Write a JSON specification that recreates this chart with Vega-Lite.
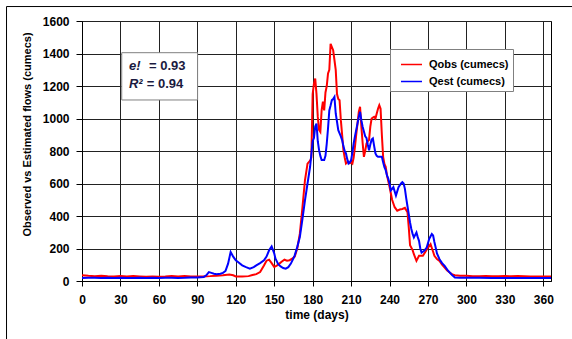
{
  "$schema": "https://vega.github.io/schema/vega-lite/v6.json",
  "width": 469,
  "height": 260,
  "autosize": {"type": "none"},
  "padding": {"left": 82, "top": 21, "right": 21, "bottom": 58},
  "background": "white",
  "config": {
    "font": "Liberation Sans",
    "view": {"stroke": "black", "strokeWidth": 1},
    "axis": {
      "labelFont": "Liberation Sans", "labelFontWeight": "bold", "labelFontSize": 12, "labelColor": "black",
      "titleFont": "Liberation Sans", "titleFontWeight": "bold", "titleColor": "black",
      "tickColor": "black", "tickSize": 5, "domainColor": "black",
      "gridColor": "#222222", "gridWidth": 1, "gridOpacity": 1,
      "labelFlush": false, "labelOverlap": false
    }
  },
  "datasets": {
    "obs": [
      {"t":0,"q":35},{"t":5,"q":32},{"t":10,"q":30},{"t":15,"q":33},{"t":20,"q":30},{"t":25,"q":28},{"t":30,"q":30},{"t":35,"q":27},{"t":40,"q":30},{"t":45,"q":28},{"t":50,"q":26},{"t":55,"q":27},{"t":60,"q":26},{"t":65,"q":27},{"t":70,"q":30},{"t":75,"q":28},{"t":80,"q":30},{"t":85,"q":28},{"t":90,"q":27},{"t":95,"q":28},{"t":100,"q":30},{"t":105,"q":33},{"t":110,"q":35},{"t":115,"q":40},{"t":118,"q":35},{"t":120,"q":28},{"t":125,"q":28},{"t":130,"q":30},{"t":133,"q":37},{"t":136,"q":42},{"t":139,"q":55},{"t":142,"q":96},{"t":144,"q":125},{"t":146,"q":131},{"t":148,"q":110},{"t":150,"q":86},{"t":152,"q":95},{"t":154,"q":107},{"t":156,"q":120},{"t":158,"q":131},{"t":160,"q":125},{"t":162,"q":128},{"t":164,"q":137},{"t":166,"q":150},{"t":168,"q":200},{"t":170,"q":291},{"t":172,"q":450},{"t":174,"q":620},{"t":176,"q":722},{"t":178,"q":740},{"t":179,"q":760},{"t":180,"q":1150},{"t":181,"q":1215},{"t":182,"q":1246},{"t":183,"q":1150},{"t":184,"q":1010},{"t":185,"q":930},{"t":186,"q":918},{"t":187,"q":1050},{"t":188,"q":1103},{"t":189,"q":1050},{"t":190,"q":1160},{"t":191,"q":1200},{"t":192,"q":1277},{"t":193,"q":1300},{"t":194,"q":1460},{"t":195,"q":1440},{"t":196,"q":1420},{"t":197,"q":1360},{"t":198,"q":1300},{"t":199,"q":1150},{"t":200,"q":1120},{"t":201,"q":1113},{"t":202,"q":990},{"t":203,"q":900},{"t":204,"q":805},{"t":205,"q":760},{"t":206,"q":723},{"t":207,"q":730},{"t":208,"q":734},{"t":209,"q":725},{"t":210,"q":730},{"t":211,"q":723},{"t":212,"q":760},{"t":213,"q":826},{"t":214,"q":900},{"t":215,"q":969},{"t":216,"q":1040},{"t":217,"q":1072},{"t":218,"q":950},{"t":219,"q":850},{"t":220,"q":764},{"t":221,"q":800},{"t":222,"q":846},{"t":223,"q":860},{"t":224,"q":867},{"t":225,"q":950},{"t":226,"q":1000},{"t":227,"q":1005},{"t":228,"q":1010},{"t":229,"q":1000},{"t":230,"q":1031},{"t":231,"q":1060},{"t":232,"q":1082},{"t":233,"q":1060},{"t":234,"q":900},{"t":235,"q":764},{"t":236,"q":720},{"t":237,"q":703},{"t":238,"q":650},{"t":240,"q":580},{"t":242,"q":500},{"t":244,"q":454},{"t":246,"q":433},{"t":248,"q":440},{"t":250,"q":443},{"t":252,"q":450},{"t":254,"q":423},{"t":255,"q":330},{"t":256,"q":220},{"t":258,"q":190},{"t":259,"q":165},{"t":261,"q":124},{"t":263,"q":155},{"t":266,"q":155},{"t":268,"q":180},{"t":270,"q":206},{"t":272,"q":227},{"t":274,"q":180},{"t":275,"q":155},{"t":277,"q":135},{"t":279,"q":124},{"t":281,"q":100},{"t":283,"q":82},{"t":285,"q":65},{"t":287,"q":52},{"t":289,"q":40},{"t":291,"q":35},{"t":295,"q":32},{"t":300,"q":32},{"t":305,"q":30},{"t":310,"q":30},{"t":315,"q":31},{"t":320,"q":30},{"t":325,"q":29},{"t":330,"q":30},{"t":335,"q":29},{"t":340,"q":30},{"t":345,"q":29},{"t":350,"q":28},{"t":355,"q":28},{"t":360,"q":27},{"t":366,"q":27}
    ],
    "est": [
      {"t":0,"q":18},{"t":5,"q":20},{"t":10,"q":20},{"t":15,"q":18},{"t":20,"q":20},{"t":25,"q":19},{"t":30,"q":20},{"t":35,"q":18},{"t":40,"q":19},{"t":45,"q":20},{"t":50,"q":18},{"t":55,"q":20},{"t":60,"q":19},{"t":65,"q":20},{"t":70,"q":20},{"t":75,"q":19},{"t":80,"q":20},{"t":85,"q":22},{"t":90,"q":22},{"t":95,"q":25},{"t":97,"q":35},{"t":99,"q":55},{"t":101,"q":50},{"t":103,"q":45},{"t":105,"q":41},{"t":108,"q":45},{"t":110,"q":50},{"t":112,"q":62},{"t":114,"q":107},{"t":116,"q":178},{"t":118,"q":150},{"t":120,"q":127},{"t":122,"q":115},{"t":125,"q":96},{"t":128,"q":85},{"t":131,"q":76},{"t":134,"q":85},{"t":136,"q":96},{"t":139,"q":110},{"t":142,"q":127},{"t":144,"q":150},{"t":146,"q":189},{"t":148,"q":213},{"t":150,"q":170},{"t":151,"q":137},{"t":153,"q":105},{"t":155,"q":90},{"t":157,"q":80},{"t":159,"q":76},{"t":161,"q":85},{"t":163,"q":107},{"t":165,"q":140},{"t":166,"q":158},{"t":168,"q":210},{"t":170,"q":270},{"t":172,"q":380},{"t":174,"q":496},{"t":176,"q":600},{"t":178,"q":703},{"t":180,"q":860},{"t":181,"q":880},{"t":182,"q":950},{"t":183,"q":969},{"t":184,"q":860},{"t":185,"q":805},{"t":186,"q":770},{"t":187,"q":744},{"t":189,"q":744},{"t":190,"q":770},{"t":191,"q":846},{"t":192,"q":940},{"t":193,"q":1050},{"t":194,"q":1080},{"t":195,"q":1113},{"t":196,"q":1120},{"t":197,"q":1133},{"t":198,"q":1031},{"t":199,"q":980},{"t":200,"q":928},{"t":202,"q":890},{"t":203,"q":867},{"t":204,"q":830},{"t":205,"q":800},{"t":206,"q":785},{"t":207,"q":750},{"t":208,"q":723},{"t":209,"q":730},{"t":210,"q":744},{"t":211,"q":790},{"t":212,"q":846},{"t":213,"q":890},{"t":214,"q":930},{"t":215,"q":969},{"t":216,"q":1010},{"t":217,"q":1041},{"t":218,"q":990},{"t":219,"q":949},{"t":220,"q":920},{"t":221,"q":890},{"t":222,"q":880},{"t":223,"q":840},{"t":224,"q":805},{"t":225,"q":840},{"t":226,"q":870},{"t":227,"q":877},{"t":228,"q":830},{"t":229,"q":785},{"t":230,"q":770},{"t":231,"q":764},{"t":233,"q":764},{"t":234,"q":764},{"t":235,"q":730},{"t":236,"q":700},{"t":237,"q":682},{"t":238,"q":650},{"t":239,"q":630},{"t":240,"q":600},{"t":241,"q":557},{"t":243,"q":577},{"t":245,"q":526},{"t":247,"q":577},{"t":249,"q":600},{"t":250,"q":608},{"t":251,"q":600},{"t":252,"q":567},{"t":253,"q":510},{"t":254,"q":460},{"t":255,"q":412},{"t":256,"q":360},{"t":257,"q":320},{"t":258,"q":290},{"t":259,"q":268},{"t":261,"q":299},{"t":262,"q":270},{"t":263,"q":247},{"t":264,"q":200},{"t":265,"q":175},{"t":267,"q":186},{"t":269,"q":206},{"t":271,"q":260},{"t":273,"q":289},{"t":274,"q":280},{"t":275,"q":240},{"t":276,"q":206},{"t":277,"q":170},{"t":279,"q":134},{"t":281,"q":110},{"t":283,"q":93},{"t":285,"q":70},{"t":287,"q":52},{"t":289,"q":35},{"t":291,"q":22},{"t":295,"q":20},{"t":300,"q":20},{"t":310,"q":20},{"t":320,"q":19},{"t":330,"q":19},{"t":340,"q":19},{"t":350,"q":18},{"t":360,"q":18},{"t":366,"q":18}
    ]
  },
  "layer": [
    {
      "data": {"name": "obs"},
      "mark": {"type": "line", "strokeWidth": 2},
      "encoding": {
        "x": {"field": "t", "type": "quantitative", "scale": {"domain": [0, 366], "nice": false},
          "axis": {"values": [0,30,60,90,120,150,180,210,240,270,300,330,360], "tickCount": 40, "format": "d", "labelOverlap": false, "title": "time (days)", "titleFontSize": 12, "labelPadding": 8, "titlePadding": 4}},
        "y": {"field": "q", "type": "quantitative", "scale": {"domain": [0, 1600], "nice": false},
          "axis": {"values": [0,200,400,600,800,1000,1200,1400,1600], "tickCount": 40, "format": "d", "labelOverlap": false, "title": "Observed vs Estimated flows (cumecs)", "titleFontSize": 11, "tickSize": 6, "labelPadding": 7, "titleX": -50, "titleY": 113}},
        "color": {"datum": "Qobs (cumecs)", "type": "nominal",
          "scale": {"domain": ["Qobs (cumecs)", "Qest (cumecs)"], "range": ["#FF0000", "#0000FF"]},
          "legend": {"orient": "none", "legendX": 308, "legendY": 28, "title": null, "symbolType": "stroke", "symbolSize": 441, "symbolStrokeWidth": 1.5, "labelFontSize": 11, "labelFontWeight": "bold", "labelColor": "black", "labelFont": "Liberation Sans", "padding": 4, "rowPadding": -2, "strokeColor": "#808080", "fillColor": "white", "symbolOffset": 6, "labelOffset": 6}}
      }
    },
    {
      "data": {"name": "est"},
      "mark": {"type": "line", "strokeWidth": 2},
      "encoding": {
        "x": {"field": "t", "type": "quantitative"},
        "y": {"field": "q", "type": "quantitative"},
        "color": {"datum": "Qest (cumecs)", "type": "nominal"}
      }
    },
    {
      "data": {"values": [{}]},
      "mark": {"type": "rect", "fill": "white", "stroke": "#808080", "strokeWidth": 1},
      "encoding": {
        "x": {"datum": 31, "type": "quantitative"}, "x2": {"datum": 90.2},
        "y": {"datum": 1405, "type": "quantitative"}, "y2": {"datum": 1114}
      }
    },
    {
      "data": {"values": [{}]},
      "mark": {"type": "text", "text": "e!", "align": "left", "baseline": "middle", "fontSize": 13, "fontWeight": "bold", "fontStyle": "italic", "color": "#1a1a40"},
      "encoding": {"x": {"datum": 36.6, "type": "quantitative"}, "y": {"datum": 1323, "type": "quantitative"}}
    },
    {
      "data": {"values": [{}]},
      "mark": {"type": "text", "text": "= 0.93", "align": "left", "baseline": "middle", "fontSize": 13, "fontWeight": "bold", "color": "#1a1a40"},
      "encoding": {"x": {"datum": 52.3, "type": "quantitative"}, "y": {"datum": 1323, "type": "quantitative"}}
    },
    {
      "data": {"values": [{}]},
      "mark": {"type": "text", "text": "R²", "align": "left", "baseline": "middle", "fontSize": 13, "fontWeight": "bold", "fontStyle": "italic", "color": "#1a1a40"},
      "encoding": {"x": {"datum": 36.6, "type": "quantitative"}, "y": {"datum": 1212, "type": "quantitative"}}
    },
    {
      "data": {"values": [{}]},
      "mark": {"type": "text", "text": "= 0.94", "align": "left", "baseline": "middle", "fontSize": 13, "fontWeight": "bold", "color": "#1a1a40"},
      "encoding": {"x": {"datum": 50.5, "type": "quantitative"}, "y": {"datum": 1212, "type": "quantitative"}}
    },
    {
      "data": {"values": [{}]},
      "mark": {"type": "rule", "color": "black", "strokeWidth": 1},
      "encoding": {"x": {"datum": -58.9, "type": "quantitative"}, "x2": {"datum": 420}, "y": {"datum": 1689, "type": "quantitative"}}
    },
    {
      "data": {"values": [{}]},
      "mark": {"type": "rule", "color": "black", "strokeWidth": 1},
      "encoding": {"x": {"datum": -58.9, "type": "quantitative"}, "y": {"datum": 1689, "type": "quantitative"}, "y2": {"datum": -400}}
    }
  ]
}
